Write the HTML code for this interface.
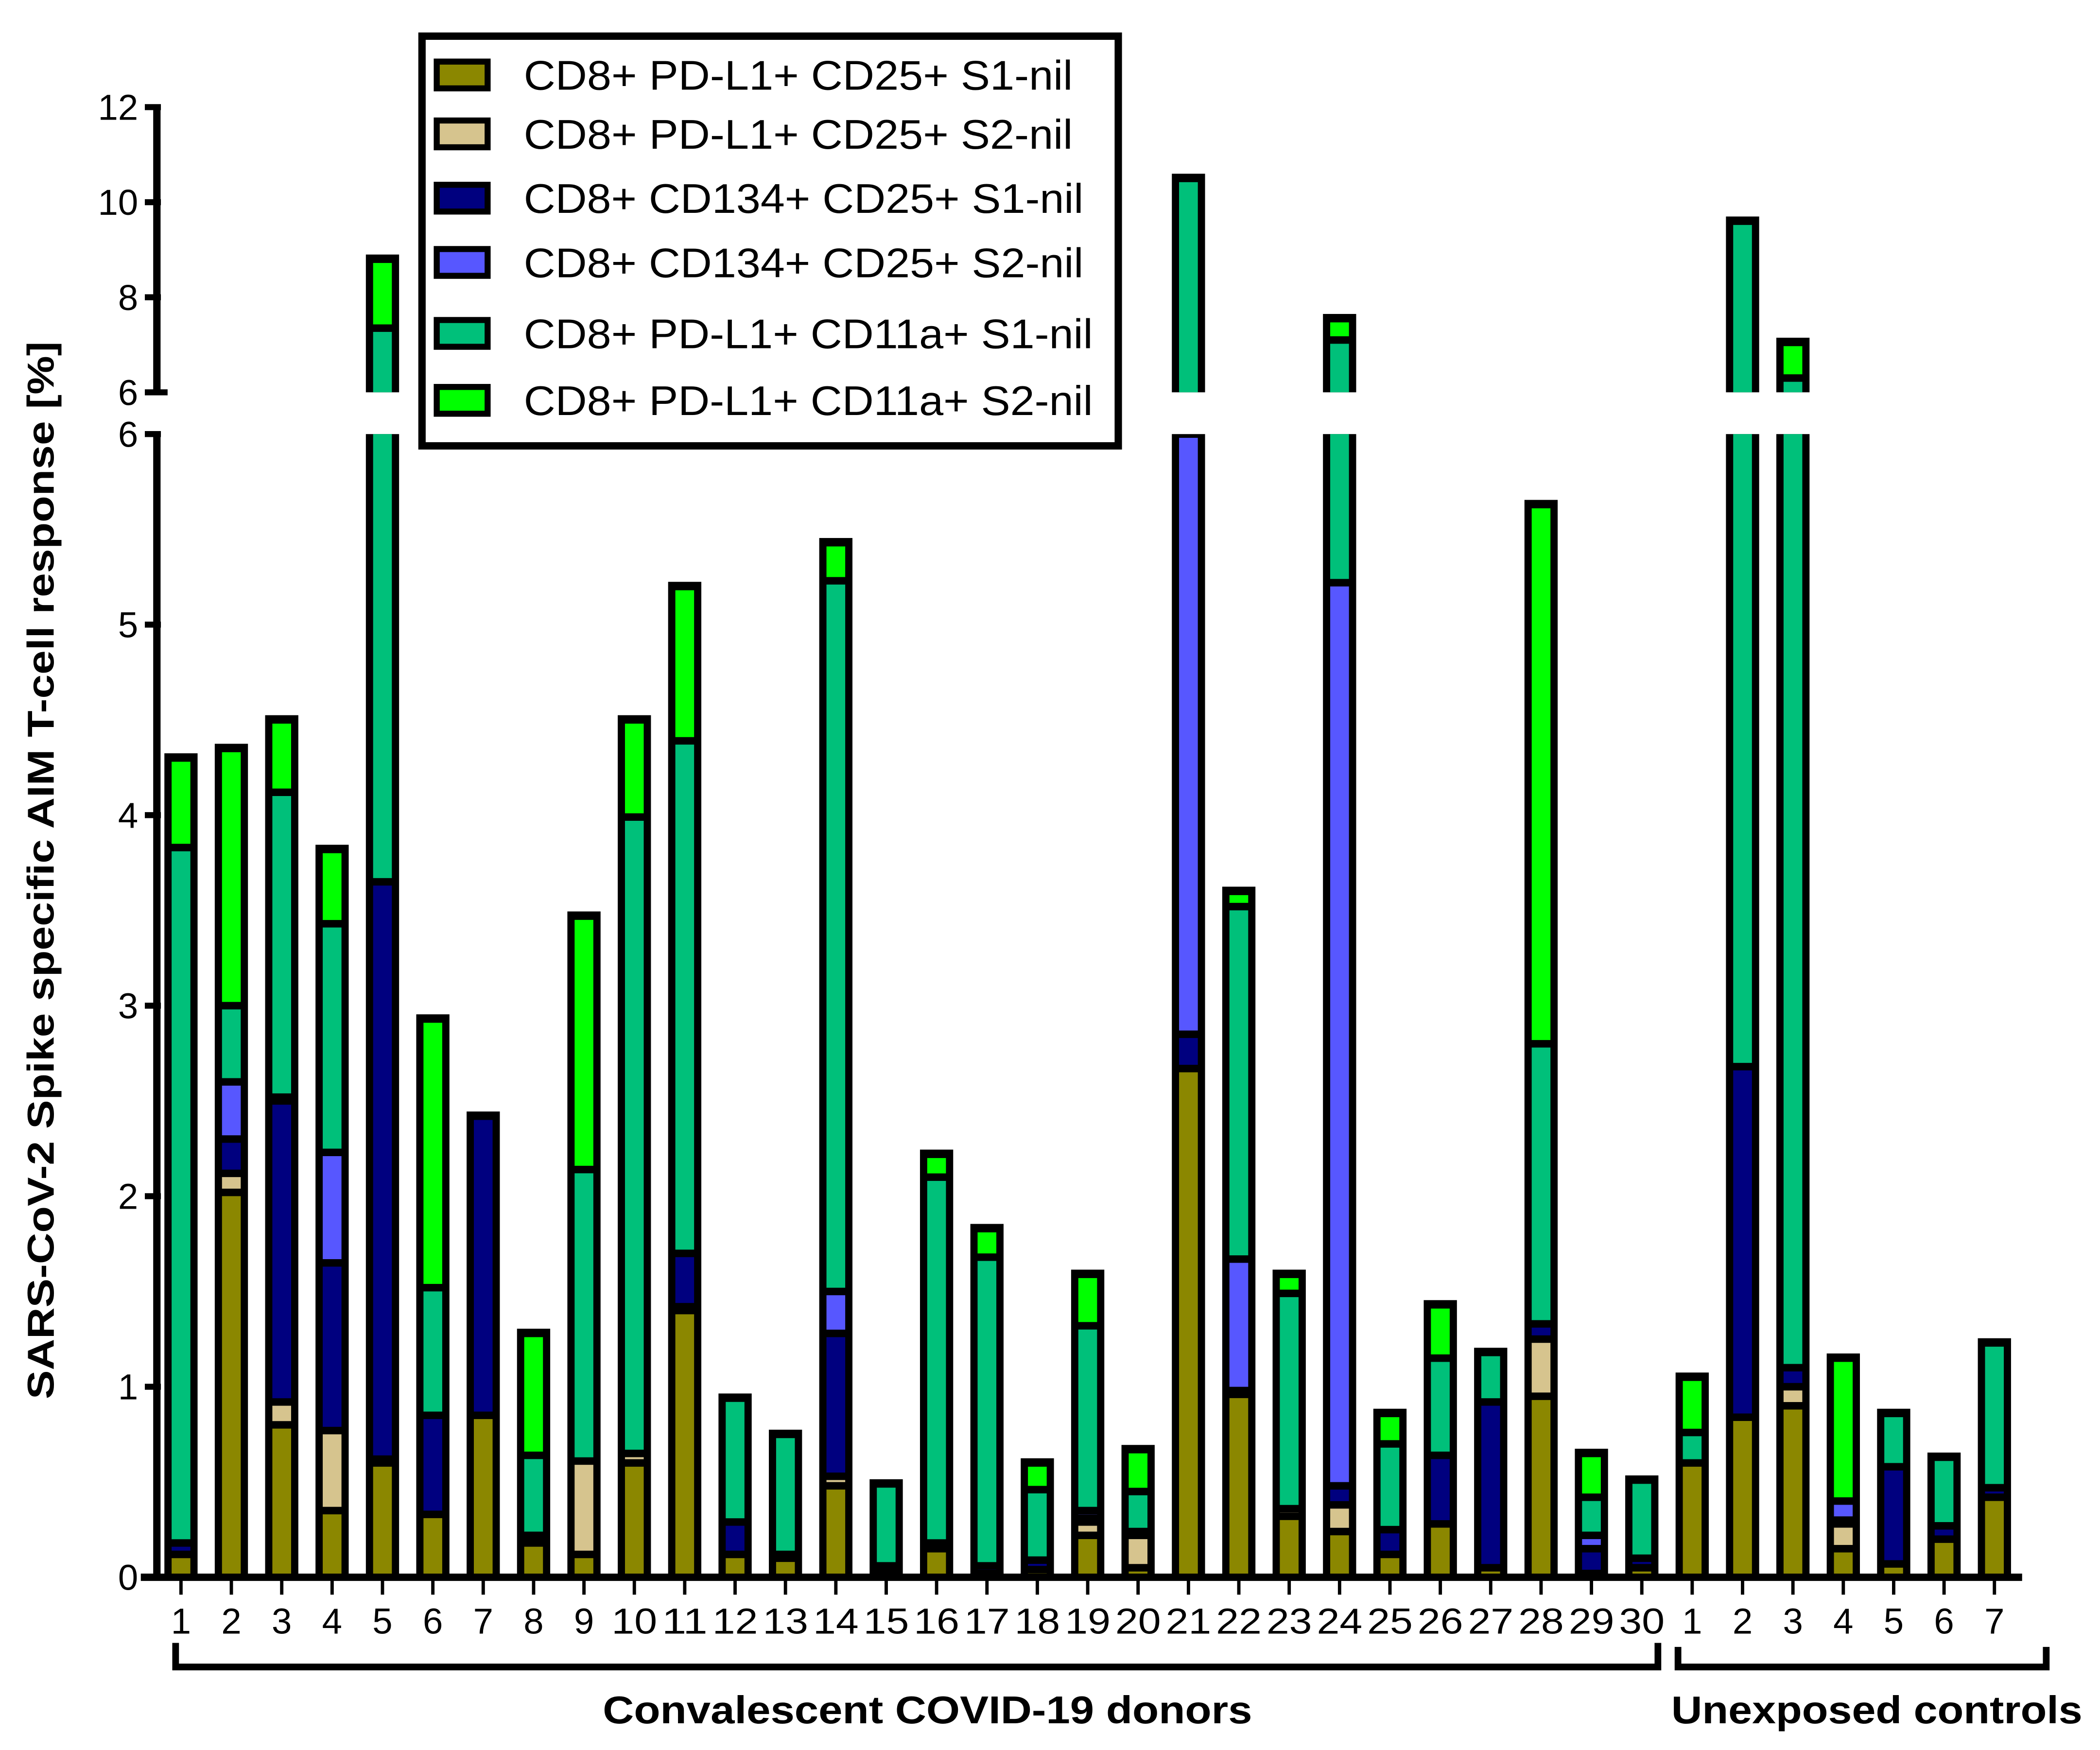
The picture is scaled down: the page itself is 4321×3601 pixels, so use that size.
<!DOCTYPE html>
<html><head><meta charset="utf-8"><style>
html,body{margin:0;padding:0;background:#fff}
svg{display:block}
text{font-family:"Liberation Sans",Arial,sans-serif}
</style></head><body>
<svg id="chart" xmlns="http://www.w3.org/2000/svg" width="4321" height="3601" viewBox="0 0 1568 1307">
<rect x="0" y="0" width="1568" height="1307" fill="#fff"/>
<g id="bars"></g>
<g id="axes"></g>
<text transform="translate(40,650) rotate(-90)" text-anchor="middle" font-size="28" font-weight="bold" textLength="790" lengthAdjust="spacingAndGlyphs">SARS-CoV-2 Spike specific AIM T-cell response [%]</text>
<g fill="none" stroke="#000" stroke-width="5">
<path d="M131,1227 V1245 H1238 V1227"/>
<path d="M1253,1230 V1245 H1528 V1230"/>
</g>
<text x="450" y="1287" font-size="29" font-weight="bold" textLength="485" lengthAdjust="spacingAndGlyphs">Convalescent COVID-19 donors</text>
<text x="1248" y="1287" font-size="29" font-weight="bold" textLength="307" lengthAdjust="spacingAndGlyphs">Unexposed controls</text>
<g id="legend">
<rect x="315" y="27" width="520" height="306" fill="#fff" stroke="#000" stroke-width="5.5"/>
</g>
</svg>
<script>
const categories = ["1","2","3","4","5","6","7","8","9","10","11","12","13","14","15","16","17","18","19","20","21","22","23","24","25","26","27","28","29","30","1","2","3","4","5","6","7"];
const seriesNames = ["CD8+ PD-L1+ CD25+ S1-nil","CD8+ PD-L1+ CD25+ S2-nil","CD8+ CD134+ CD25+ S1-nil","CD8+ CD134+ CD25+ S2-nil","CD8+ PD-L1+ CD11a+ S1-nil","CD8+ PD-L1+ CD11a+ S2-nil"];
const pdl1Cd25S1 = [0.12,2.02,0.8,0.35,0.6,0.33,0.85,0.18,0.12,0.6,1.4,0.12,0.1,0.48,0.03,0.15,0.02,0.04,0.22,0.05,2.67,0.96,0.32,0.24,0.12,0.28,0.05,0.95,0.02,0.05,0.6,0.84,0.9,0.15,0.07,0.2,0.42];
const pdl1Cd25S2 = [0,0.1,0.12,0.42,0.02,0,0,0.02,0.49,0.05,0.02,0,0,0.05,0,0,0,0,0.07,0.17,0,0,0.04,0.14,0,0,0,0.3,0,0,0,0,0.1,0.13,0,0,0];
const cd134Cd25S1 = [0.06,0.18,1.58,0.88,3.03,0.52,1.57,0.02,0,0,0.28,0.17,0.02,0.75,0.03,0.03,0.04,0.05,0.02,0.02,0.18,0.02,0,0.1,0.13,0.36,0.87,0.08,0.13,0.05,0,1.84,0.1,0.02,0.51,0.07,0.05];
const cd134Cd25S2 = [0,0.3,0.02,0.58,0,0,0,0,0,0,0,0,0,0.22,0,0,0,0,0.04,0,3.15,0.69,0,4.74,0,0,0,0,0.07,0,0,0,0,0.1,0,0,0];
const pdl1Cd11aS1 = [3.65,0.4,1.6,1.2,3.7,0.67,0,0.42,1.53,3.34,2.69,0.65,0.63,3.73,0.43,1.92,1.62,0.37,0.97,0.21,4.5,1.85,1.13,1.88,0.45,0.51,0.26,1.47,0.2,0.41,0.16,6.92,5.2,0,0.28,0.36,0.76];
const pdl1Cd11aS2 = [0.47,1.35,0.38,0.39,1.45,1.41,0,0.64,1.33,0.51,0.81,0,0,0.2,0,0.12,0.15,0.14,0.27,0.22,0,0.08,0.1,0.45,0.16,0.28,0,2.83,0.23,0,0.29,0,0.75,0.75,0,0,0];
const series = [pdl1Cd25S1,pdl1Cd25S2,cd134Cd25S1,cd134Cd25S2,pdl1Cd11aS1,pdl1Cd11aS2];
const seriesKeys = ["pdl1-cd25-s1","pdl1-cd25-s2","cd134-cd25-s1","cd134-cd25-s2","pdl1-cd11a-s1","pdl1-cd11a-s2"];
const colors = ["#8B8700","#D6C48E","#00007F","#5757FF","#00C07A","#00FF00"];
const lowerTicks = [0,1,2,3,4,5,6];
const upperTicks = [6,8,10,12];

const NS = "http://www.w3.org/2000/svg";
const BASE = 1178, LOW_UNIT = 142.3, UP_BASE = 293, UP_UNIT = 35.5, UP_MAX = 12;
function yLow(v){ return BASE - v*LOW_UNIT; }
function yUp(v){ return UP_BASE - (v-6)*UP_UNIT; }
function xPos(i){ return 135 + i*37.62; }
function mk(tag, attrs, parent){ const e=document.createElementNS(NS,tag); for(const k in attrs) e.setAttribute(k,attrs[k]); parent.appendChild(e); return e; }

const barsG = document.getElementById('bars');
categories.forEach((cat,i)=>{
  const g = mk('g',{},barsG);
  
  
  const x = xPos(i);
  let total = 0; series.forEach(s=>total+=s[i]);
  const lt = Math.min(total,6);
  const oL = mk('rect',{x:x-12.4,y:yLow(lt)-(total>6?0:3.5),width:24.8,height:BASE-yLow(lt)+(total>6?0:3.5),fill:'#000'},g);
  
  
  if(total>6){
    const ut = Math.min(total,UP_MAX);
    const oU = mk('rect',{x:x-12.4,y:yUp(ut)-3.5,width:24.8,height:UP_BASE-yUp(ut)+3.5,fill:'#000'},g);
    
    
  }
  let c = 0;
  series.forEach((s,k)=>{
    const v = s[i]; const c0 = c, c1 = c + v; c = c1;
    if(v<=0) return;
    const a = Math.min(c0,6), b = Math.min(c1,6);
    if(b>a){
      const yt = yLow(b) + (c1>6 ? 0 : 2.8);
      const yb = yLow(a) - (a>0 ? 2.8 : 0);
      if(yb>yt){
        const r = mk('rect',{x:x-7,y:yt,width:14,height:yb-yt,fill:colors[k]},g);
        
        
      }
    }
    const a2 = Math.max(c0,6), b2 = Math.min(c1,UP_MAX);
    if(b2>a2){
      const yt = yUp(b2) + 2.8;
      const yb = yUp(a2) - (c0>6 ? 2.8 : 0);
      if(yb>yt){
        const r = mk('rect',{x:x-7,y:yt,width:14,height:yb-yt,fill:colors[k]},g);
        
        
      }
    }
  });
});

const axG = document.getElementById('axes');
const yl = mk('line',{x1:117,y1:BASE,x2:117,y2:yLow(6)-2,stroke:'#000','stroke-width':5.5},axG);


const yu = mk('line',{x1:117,y1:yUp(6)+2,x2:117,y2:yUp(12)-2,stroke:'#000','stroke-width':5.5},axG);


lowerTicks.forEach(t=>{
  const y=yLow(t);
  const tk = mk('line',{x1:108,y1:y,x2:120,y2:y,stroke:'#000','stroke-width':4.5},axG);
  
  
  const tx = mk('text',{x:103,y:y+9.5,'text-anchor':'end','font-size':27},axG);
  tx.textContent = t;
  
  
});
upperTicks.forEach(t=>{
  const y=yUp(t);
  const tk = mk('line',{x1:108,y1:y,x2:(t===6?125:120),y2:y,stroke:'#000','stroke-width':4.5},axG);
  
  
  const tx = mk('text',{x:103,y:y+9.5,'text-anchor':'end','font-size':27},axG);
  tx.textContent = t;
  
  
});
const xl = mk('line',{x1:105,y1:BASE,x2:1510,y2:BASE,stroke:'#000','stroke-width':5.5},axG);


categories.forEach((cat,i)=>{
  const x = xPos(i);
  const tk = mk('line',{x1:x,y1:BASE,x2:x,y2:1191,stroke:'#000','stroke-width':2.5},axG);
  
  
  const tx = mk('text',{x:x,y:1220,'text-anchor':'middle','font-size':27},axG);
  tx.textContent = cat;
  if(cat.length>1){ tx.setAttribute('textLength','34'); tx.setAttribute('lengthAdjust','spacingAndGlyphs'); }
  
  
});

const lg = document.getElementById('legend');
const rowY = [56,100,148,196,249,299];
const legendWidths = [410,410,418,418,425,425];
seriesNames.forEach((n,k)=>{
  const g = mk('g',{},lg);
  
  
  mk('rect',{x:326,y:rowY[k]-10,width:38,height:20,fill:colors[k],stroke:'#000','stroke-width':4.5},g);
  const t = mk('text',{x:391,y:rowY[k]+11,'font-size':31,textLength:legendWidths[k],lengthAdjust:'spacingAndGlyphs'},g);
  t.textContent = n;
});
</script>
</body></html>
